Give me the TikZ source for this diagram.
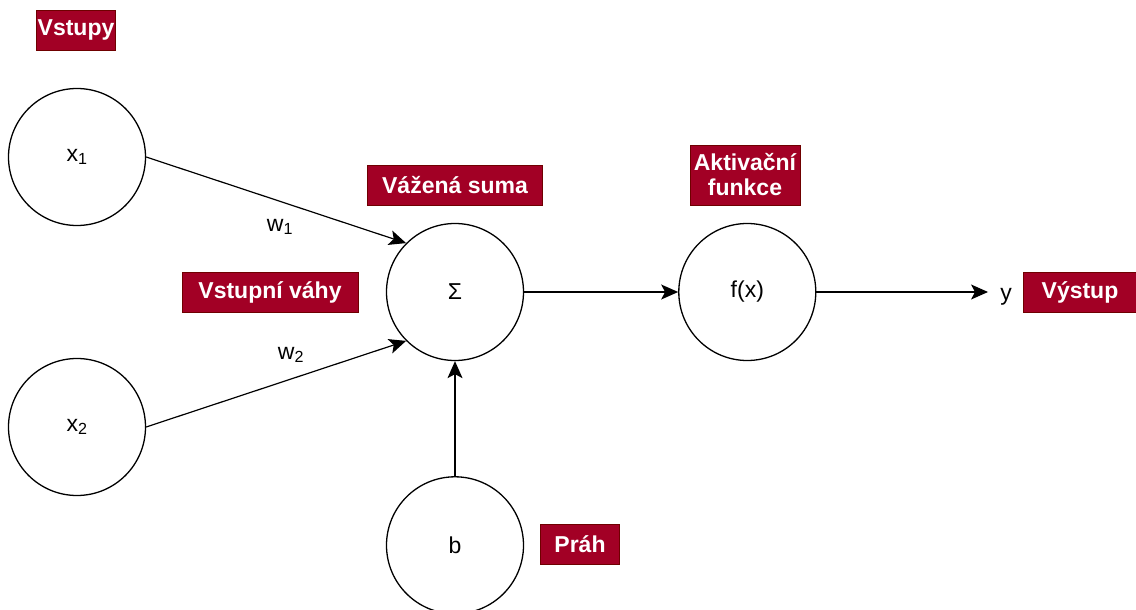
\documentclass[tikz,border=0pt]{standalone}
\usepackage{fontspec}
\setmainfont{Liberation Sans}
\usepackage{tikz}
\usetikzlibrary{arrows.meta, positioning}
\definecolor{tagFill}{HTML}{A20025}
\definecolor{tagDraw}{HTML}{6F0000}

\begin{document}
\begin{tikzpicture}[
    x=1pt, y=-1pt,
    neuron/.style={
        circle,
        draw=black,
        line width=1.3pt,
        minimum size=137pt,
        inner sep=0pt,
        font=\fontsize{23}{26}\selectfont
    },
    tag/.style={
        rectangle,
        draw=tagDraw,
        fill=tagFill,
        line width=0.8pt,
        text=white,
        inner sep=1pt,
        minimum height=40pt,
        align=center,
        font=\fontsize{23}{25}\selectfont\bfseries
    },
    wlabel/.style={font=\fontsize{23}{26}\selectfont, inner sep=1pt},
    link/.style={-{Stealth[length=17pt, width=15pt, inset=4pt]}, line width=1.2pt}
]
    \useasboundingbox (0,0) rectangle (1136,610);

    % Neurons
    \node[neuron] (x1) at (77,157) {x\textsubscript{1}};
    \node[neuron] (x2) at (77,427) {x\textsubscript{2}};
    \node[neuron] (sum) at (455,292) {Σ};
    \node[neuron, right=154pt of sum] (fx) {f(x)};
    \node[neuron, below=115pt of sum] (b) {b};
    \node[wlabel] (y) at (1006,297) {y};

    % Weights
    \node[wlabel] (w1) at (280,227) {w\textsubscript{1}};
    \node[wlabel] (w2) at (291,355) {w\textsubscript{2}};

    % Tags
    \node[tag, minimum width=79pt] (vstupy) at (76,30) {Vstupy};
    \node[tag, minimum width=176pt] (vahy) at (270,292) {Vstupní váhy};
    \node[tag, minimum width=175pt] (suma) at (455,185) {Vážená suma};
    \node[tag, minimum width=110pt, minimum height=60pt] (aktiv) at (745,175) {Aktivační\\funkce};
    \node[tag, minimum width=113pt] (vystup) at (1080,292) {Výstup};
    \node[tag, minimum width=79pt] (prah) at (580,544) {Práh};

    % Connections
    \draw[link] (x1.east) -- (sum.135);
    \draw[link] (x2.east) -- (sum.225);
    \draw[link] (b) -- (sum);
    \draw[link] (sum) -- (fx);
    \draw[link, shorten >=11pt] (fx) -- (fx -| y.west);

\end{tikzpicture}
\end{document}
